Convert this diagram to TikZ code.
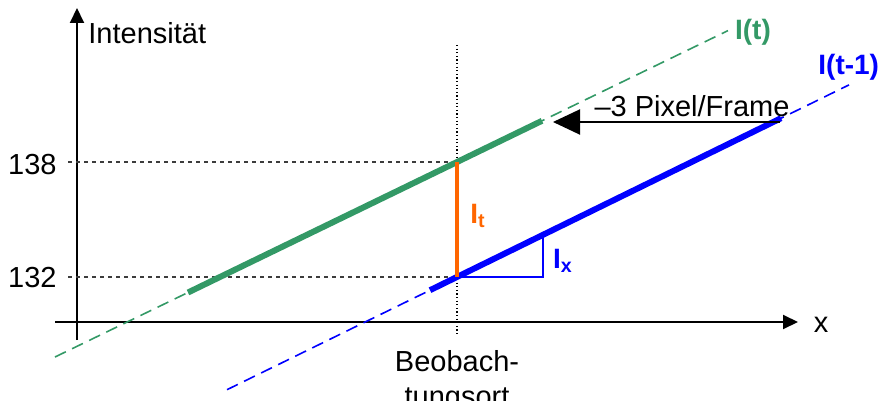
\documentclass[tikz,border=0pt]{standalone}
\usepackage{fontspec}
\setmainfont{Liberation Sans}
\usetikzlibrary{arrows.meta,calc}
\definecolor{cgreen}{RGB}{51,153,102}
\definecolor{corange}{RGB}{255,102,0}
\definecolor{cblue}{RGB}{0,0,255}
\definecolor{cgrey}{RGB}{60,60,60}
\tikzset{
  lbl/.style={inner sep=0pt, font=\fontsize{14.5}{17.5}\selectfont},
  blbl/.style={inner sep=0pt, font=\fontsize{14}{17}\selectfont\bfseries},
  axis/.style={line width=1pt, -{Triangle[length=7.5pt,width=7pt]}},
  guide/.style={cgrey, line width=0.6pt, dash pattern=on 2pt off 2pt},
  vguide/.style={black, line width=0.6pt, dash pattern=on 0.6pt off 1.2pt},
  thinline/.style={line width=0.8pt, dash pattern=on 6pt off 3.5pt},
  thickline/.style={line width=3pt},
}
\begin{document}
\begin{tikzpicture}[x=0.5pt,y=-0.5pt]
\useasboundingbox (0,0) rectangle (878,401);
% axes
\coordinate (y0) at (77,340);
\coordinate (y1) at (77,8);
\coordinate (x0) at (55,322);
\coordinate (x1) at (798,322);
\draw[axis] (y0) -- (y1);
\draw[axis] (x0) -- (x1);
\node[lbl, anchor=west] (ylab) at (88,33) {Intensität};
\node[lbl] (xlab) at (821,325) {x};
% key points
\coordinate (P) at (457,162);
\coordinate (Q) at (457,277);
% guides
\coordinate (g138) at (68,162);
\coordinate (g132) at (68,277);
\coordinate (vtop) at (457,45);
\coordinate (vbot) at (457,336);
\draw[guide] (g138) -- (P);
\draw[guide] (g132) -- (Q);
\draw[vguide] (vtop) -- (vbot);
\node[lbl, anchor=east] (l138) at (57,165) {138};
\node[lbl, anchor=east] (l132) at (57,278) {132};
% green line I(t)
\coordinate (ga) at (55,357);
\coordinate (gb) at (728,30.6);
\coordinate (gs) at (188,292.5);
\coordinate (ge) at (542,120.8);
\draw[thinline, cgreen] (ga) -- (gb);
\draw[thickline, cgreen] (gs) -- (ge);
\node[blbl, text=cgreen] (It) at (753,32) {I(t)};
% blue line I(t-1)
\coordinate (ba) at (227,389.7);
\coordinate (bb) at (849,84.9);
\coordinate (bs) at (430,290.2);
\coordinate (be) at (781,118.2);
\draw[thinline, cblue] (ba) -- (bb);
\draw[thickline, cblue] (bs) -- (be);
\node[blbl, text=cblue, anchor=west] (It1) at (818,67) {I(t-1)};
% slope triangle
\coordinate (tr1) at (543,277);
\coordinate (tr2) at (543,234.9);
\draw[cblue, line width=0.8pt] (Q) -- (tr1) -- (tr2);
\node[blbl, text=cblue] (Ix) at (563,261) {I\textsubscript{x}};
% orange I_t
\draw[corange, line width=2pt] (P) -- (Q);
\node[blbl, text=corange] (Itl) at (478,216) {I\textsubscript{t}};
% shift arrow
\coordinate (as) at (780,122);
\coordinate (ae) at (553,122);
\draw[line width=1pt, -{Triangle[length=13.5pt,width=12.5pt]}] (as) -- (ae);
\node[lbl] (shift) at (692,106) {–3 Pixel/Frame};
% observation point
\node[lbl, align=center, anchor=north] (obs) at (457,350) {Beobach-\\tungsort};
\end{tikzpicture}
\end{document}
